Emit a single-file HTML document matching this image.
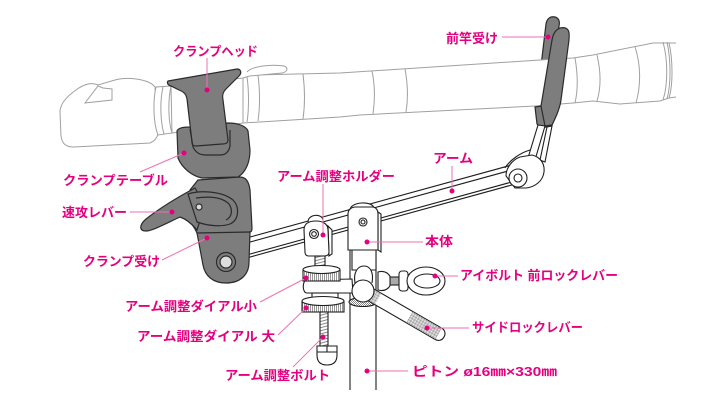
<!DOCTYPE html>
<html><head><meta charset="utf-8"><style>
html,body{margin:0;padding:0;background:#fff;}
svg{display:block;}
.lb{font-family:"Liberation Sans","Noto Sans CJK JP",sans-serif;font-weight:bold;font-size:13px;fill:#e4007f;}
</style></head><body>
<svg width="720" height="403" viewBox="0 0 720 403" xmlns="http://www.w3.org/2000/svg">
<defs>
<pattern id="knurl" width="2" height="2" patternUnits="userSpaceOnUse"><rect width="2" height="2" fill="#fff"/><rect width="1" height="1" fill="#8a8a8a"/><rect x="1" y="1" width="1" height="1" fill="#8a8a8a"/></pattern>
<pattern id="vk" width="2" height="4" patternUnits="userSpaceOnUse"><rect width="2" height="4" fill="#fff"/><rect width="1" height="4" fill="#999"/></pattern>
<pattern id="thr" width="4" height="3" patternUnits="userSpaceOnUse" patternTransform="rotate(-15)"><rect width="4" height="3" fill="#fff"/><rect width="4" height="1" fill="#888"/></pattern>
</defs>

<!-- back finger of front rod rest -->
<path d="M541,66 L546,24 C547,18 551,16 555,17 C559,18 560,22 559,26 L553,66 Z" fill="#7d7d7d" stroke="#2b2b2b" stroke-width="1.2"/>

<!-- ROD -->
<g fill="#fff" stroke="#a0a0a0" stroke-width="1">
<path d="M155,87 C150,80 130,76 115,80 L98,85 C92,82 84,84 76,90 C66,97 60,104 60,112 L61,136 C62,144 66,147 74,147 L150,143 C155,141 157,138 158,134 Z"/>
<path d="M85,103 L98,86 L103,88 L112,89 L112,100 Z" fill="none"/>
<path d="M171,86 L243,78 L253,75 L340,73 L540,60 L573,58 L593,55 L653,43 L669,43 C673,60 673,85 669,98 L660,101 L620,104 L593,101 L573,103 L535,106 L360,115 L340,117 L243,123 L172,133 Z"/>
<path d="M156,87 C153,100 153,122 158,135 L172,133 C168,120 168,100 171,86 Z"/>
<path d="M163,87 C160,100 160,120 164,134" fill="none"/>
<path d="M243,78 L243,123 M247,77 C249,90 249,110 247,122 M258,75 C260,90 260,108 258,121 M303,74 C305,90 305,105 303,119 M372,71 C375,85 375,100 373,114 M405,69 C408,85 408,100 406,112" fill="none"/>
<path d="M575,58 C578,75 578,90 575,103 M597,55 C601,72 601,88 597,101 M635,47 C641,65 641,85 636,103 M663,42 C668,60 668,85 663,100 M667,42 C671,60 671,85 667,99 M669,43 L676,43 M669,98 L676,97" fill="none"/>
<path d="M247,72 C252,66 272,64 284,66 C289,68 287,72 282,73 L250,76"/>
</g>

<!-- front finger + lower block -->
<g fill="#7d7d7d" stroke="#2b2b2b" stroke-width="1.2">
<path d="M535,107 L548,105 L559,107 L552,125 C548,128 540,128 537,124 Z"/>
<path d="M558,29 C561,27 566,27 568,30 C570,33 569,37 569,40 L561,100 C560,108 556,117 552,125 L545,126 L541,106 L552,40 C553,34 555,31 558,29 Z"/>
</g>

<!-- ARM -->
<g stroke="#1e1e1e" stroke-width="1.1">
<path d="M245,238.4 L515,164.1 L515,184.1 L245,258.4 Z" fill="#fff"/>
<path d="M245,243.4 L515,169.1 M245,255.4 L515,181.1" fill="none"/>
</g>

<!-- right joint + metal rods -->
<g stroke="#1e1e1e" stroke-width="1.1" fill="#fff">
<path d="M538,125 L545,126 L535,160 L528,158 Z"/>
<path d="M547,127 L552,126 L545,162 L540,160 Z"/>
<path d="M505,168 C510,160 520,153 530,150" fill="none"/>
<path d="M506,176 C506,168 512,160 520,157 L532,155 C540,157 545,163 544,172 C543,181 535,187 526,188 L515,188 Z"/>
<circle cx="518" cy="178" r="9"/>
<circle cx="518" cy="178" r="4"/>
</g>

<!-- MAST -->
<g stroke="#1e1e1e" stroke-width="1.1" fill="none">
<path d="M350,250 L350,390 M376,250 L376,390"/>
</g>

<!-- holder (clevis) + dials -->
<g stroke="#1e1e1e" stroke-width="1.1" fill="#fff">
<path d="M308,222 C308,214 322,213 323,220"/>
<path d="M328,226 L332,230 L332,254 L329,256 Z"/>
<path d="M304,230 C304,223 309,221 316,221 C323,221 328,224 328,230 L329,252 C329,255 327,256 324,256 L309,256 C306,256 305,254 305,252 Z"/>
<circle cx="314" cy="234" r="4.5"/>
<circle cx="314" cy="234" r="2.3"/>
<rect x="315" y="256" width="10" height="12" fill="url(#thr)"/>
<path d="M307,280 L352,279 L353,293 L307,293 C302,293 302,280 307,280 Z"/>
<rect x="303" y="270" width="37" height="11" fill="url(#vk)"/>
<ellipse cx="321.5" cy="269.5" rx="18.5" ry="4"/>
<rect x="312" y="293" width="26" height="7"/>
<rect x="302" y="302" width="42" height="10" fill="url(#vk)"/>
<ellipse cx="323" cy="301" rx="21" ry="4.5"/>
<rect x="320" y="312" width="8" height="34" fill="url(#thr)"/>
<path d="M317,346 L337,346 L337,355 C337,362 333,365 327,365 C321,365 317,362 317,355 Z"/>
<path d="M317,352 L337,352 M327,346 L327,352" fill="none"/>
</g>

<!-- BODY -->
<g stroke="#1e1e1e" stroke-width="1.1" fill="#fff">
<path d="M350,210 C350,202 372,200 374,208"/>
<path d="M352,250 L352,270 L376,270 L376,250 Z"/>
<path d="M378,212 L381,214 L381,252 L378,250 Z"/>
<path d="M348,214 C348,209 352,207 356,207 L372,207 C376,207 378,210 378,214 L378,250 L348,250 Z"/>
<circle cx="363" cy="222" r="4"/>
<circle cx="363" cy="222" r="2"/>
</g>

<!-- collar, knob, eye bolt, side lever -->
<g stroke="#1e1e1e" stroke-width="1.1" fill="#fff">
<ellipse cx="363" cy="302" rx="14" ry="4.5" fill="url(#knurl)"/>
<path d="M378,272 C385,270 391,274 391,281 C391,288 385,292 378,290 Z"/>
<rect x="390" y="277" width="10" height="8" fill="#aaa"/>
<rect x="399" y="271" width="9" height="20" rx="3"/>
<ellipse cx="426" cy="281" rx="19" ry="14"/>
<ellipse cx="427" cy="281" rx="13" ry="7"/>
<g transform="translate(366,292) rotate(30)">
<rect x="0" y="-6.5" width="90" height="13" rx="6"/>
<rect x="50" y="-6" width="34" height="12" fill="url(#knurl)" stroke="none"/>
<rect x="6" y="-6" width="8" height="12" fill="url(#knurl)" stroke="none"/>
</g>
<path d="M355,283 C353,272 358,266 364,266 C370,266 374,272 372,283"/>
<circle cx="363" cy="291" r="11"/>
</g>

<!-- CLAMP -->
<g stroke="#2b2b2b" stroke-width="1.2" fill="#7d7d7d">
<path d="M177,131 C178,128 183,127 190,127 L228,123 C238,123 246,126 248,131 L250,150 C250,162 246,172 238,177 L202,178 C192,176 182,168 178,158 Z"/>
<path d="M168,81 L237,69 C241,69 242,73 239,76 L226,89 C223,92 222,95 223,100 L228,140 C228,143 226,144 222,144 L196,146 C193,146 192,145 192,142 L187,99 C186,94 184,92 179,90 L171,86 C167,85 167,82 168,81 Z"/>
<path d="M190,129 L193,147 C196,153 200,155 206,155 L220,155 C226,155 229,151 230,146 L230,130" fill="none"/>
<path d="M198,180 L240,177 C246,177 249,182 250,190 L252,228 C252,231 251,232 250,232 L249,262 C249,275 240,283 226,283 C213,283 205,276 203,265 L197,233 C194,226 190,222 187,220 L190,190 Z"/>
<path d="M195,188 C180,196 160,208 146,219 C139,225 139,231 146,231 C152,231 165,224 180,217 C186,219 192,224 197,230 L205,205 Z"/>
<path d="M188,194 C200,190 222,191 233,200 C240,207 239,220 230,224 C222,227 208,226 197,222 Z"/>
<path d="M196,198 C210,196 222,197 229,204 C233,210 232,217 226,220" fill="none"/>
<path d="M197,233 L250,232" fill="none"/>
<circle cx="199" cy="207" r="3" fill="#ddd"/>
<circle cx="226" cy="262" r="9.5"/>
<circle cx="226" cy="262" r="6" fill="#ddd"/>
</g>

<!-- LEADERS -->
<g stroke="#ee72b2" stroke-width="1" fill="none">
<path d="M207,58 L207,90"/>
<path d="M502,37 L548,37"/>
<path d="M140,172 L184,153"/>
<path d="M130,212 L172,212"/>
<path d="M162,260 L207,238"/>
<path d="M323,184 L323,235"/>
<path d="M452,166 L452,191"/>
<path d="M367,242 L423,242"/>
<path d="M435,276 L458,276"/>
<path d="M427,328 L469,328"/>
<path d="M367,371 L408,371"/>
<path d="M260,302 L306,278"/>
<path d="M278,335 L306,308"/>
<path d="M293,367 L323,337"/>
</g>
<g fill="#e4007f">
<circle cx="207" cy="90" r="2.5"/>
<circle cx="548" cy="37" r="2.5"/>
<circle cx="184" cy="153" r="2.5"/>
<circle cx="172" cy="212" r="2.5"/>
<circle cx="207" cy="238" r="2.5"/>
<circle cx="323" cy="235" r="2.5"/>
<circle cx="452" cy="191" r="2.5"/>
<circle cx="367" cy="242" r="2.5"/>
<circle cx="435" cy="276" r="2.5"/>
<circle cx="427" cy="328" r="2.5"/>
<circle cx="367" cy="371" r="2.5"/>
<circle cx="306" cy="278" r="2.5"/>
<circle cx="306" cy="308" r="2.5"/>
<circle cx="323" cy="337" r="2.5"/>
</g>

<!-- LABELS -->
<text class="lb" x="173" y="56" textLength="85" lengthAdjust="spacingAndGlyphs">クランプヘッド</text>
<text class="lb" x="446" y="43" textLength="52" lengthAdjust="spacingAndGlyphs">前竿受け</text>
<text class="lb" x="63" y="185" textLength="105" lengthAdjust="spacingAndGlyphs">クランプテーブル</text>
<text class="lb" x="62" y="217" textLength="65" lengthAdjust="spacingAndGlyphs">速攻レバー</text>
<text class="lb" x="83" y="266" textLength="77" lengthAdjust="spacingAndGlyphs">クランプ受け</text>
<text class="lb" x="277" y="181" textLength="118" lengthAdjust="spacingAndGlyphs">アーム調整ホルダー</text>
<text class="lb" x="433" y="163" textLength="40" lengthAdjust="spacingAndGlyphs">アーム</text>
<text class="lb" x="425" y="246" textLength="28" lengthAdjust="spacingAndGlyphs">本体</text>
<text class="lb" x="460" y="280" textLength="158" lengthAdjust="spacingAndGlyphs">アイボルト 前ロックレバー</text>
<text class="lb" x="472" y="332" textLength="111" lengthAdjust="spacingAndGlyphs">サイドロックレバー</text>
<text class="lb" x="412" y="376" textLength="145" lengthAdjust="spacingAndGlyphs">ピトン ø16㎜×330㎜</text>
<text class="lb" x="125" y="311" textLength="132" lengthAdjust="spacingAndGlyphs">アーム調整ダイアル小</text>
<text class="lb" x="137" y="341" textLength="138" lengthAdjust="spacingAndGlyphs">アーム調整ダイアル 大</text>
<text class="lb" x="225" y="380" textLength="105" lengthAdjust="spacingAndGlyphs">アーム調整ボルト</text>
</svg>
</body></html>
